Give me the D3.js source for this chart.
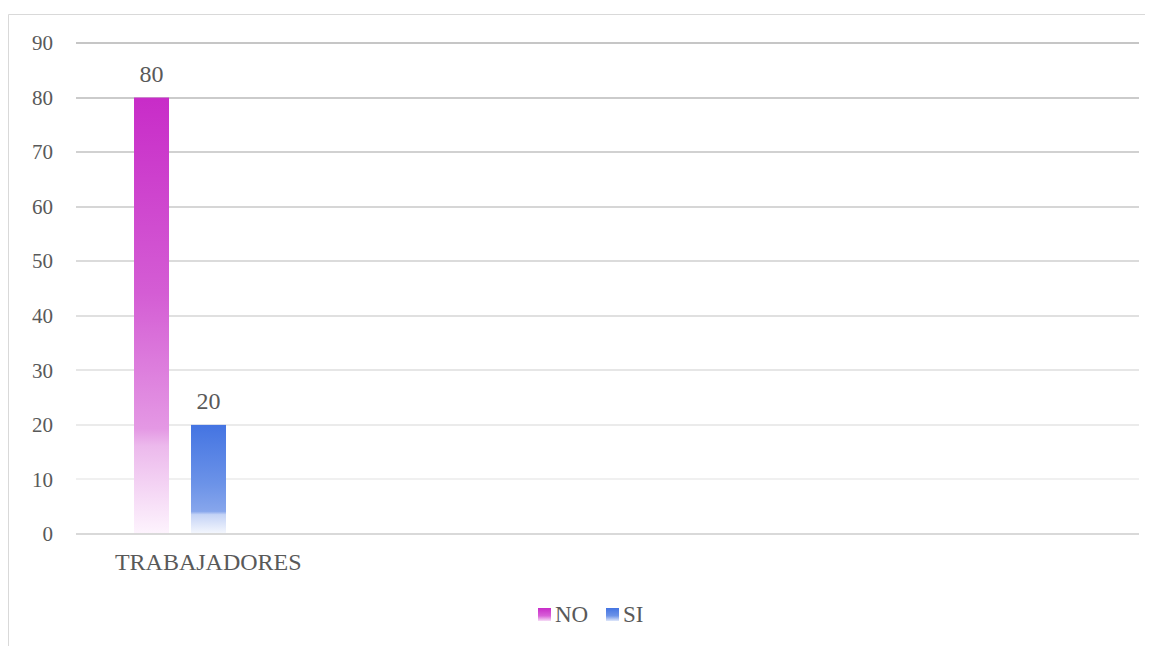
<!DOCTYPE html>
<html>
<head>
<meta charset="utf-8">
<script src="https://cdn.jsdelivr.net/npm/d3@7"></script>
<style>
  html, body { margin: 0; padding: 0; background: #fff; }
  svg text { font-family: "Liberation Serif", "DejaVu Serif", serif; font-variant-numeric: oldstyle-nums; fill: #595959; }
</style>
</head>
<body>
<svg id="chart" width="1154" height="646"></svg>
<script>
// Survey answers per group
const categories = ["TRABAJADORES"];
const seriesNames = ["NO", "SI"];
const valuesNO = [80];
const valuesSI = [20];
const yTicks = [0, 10, 20, 30, 40, 50, 60, 70, 80, 90];

const svg = d3.select("#chart");
const W = 1154, H = 646;
const plot = { left: 76, right: 1139, top: 43, bottom: 534 };

// chart frame (top and left edges)
svg.append("path")
  .attr("d", `M8.5,${H} V14.5 H1145`)
  .attr("fill", "none").attr("stroke", "#d9d9d9").attr("stroke-width", 1);

const y = d3.scaleLinear().domain([0, 90]).range([plot.bottom, plot.top]);

// one category slot out of five equal slots across the plot
const slotW = (plot.right - plot.left) / 5;
const x0 = d3.scaleBand().domain(categories).range([plot.left, plot.left + slotW * categories.length]);
const x1 = d3.scaleBand().domain(seriesNames).range([0, x0.bandwidth()])
  .paddingInner(0.386).paddingOuter(1.058).align(0.481);

// gradients
const defs = svg.append("defs");
function grad(id, stops) {
  const g = defs.append("linearGradient").attr("id", id)
    .attr("x1", 0).attr("y1", 0).attr("x2", 0).attr("y2", 1);
  stops.forEach(s => g.append("stop").attr("offset", s[0]).attr("stop-color", s[1]));
}
grad("gNO", [[0, "#c82cc8"], [0.45, "#d45dd4"], [0.76, "#e498e4"], [0.8, "#ecb9ec"], [1, "#fdf3fd"]]);
grad("gSI", [[0, "#4474e2"], [0.55, "#6c93e8"], [0.8, "#87a6ec"], [0.83, "#c4d3f6"], [1, "#f3f6fd"]]);
grad("gNOleg", [[0, "#c82cc8"], [0.6, "#d860d8"], [1, "#f6dcf6"]]);
grad("gSIleg", [[0, "#4474e2"], [0.6, "#6c93e8"], [1, "#dfe7fa"]]);

// gridlines, fading toward the baseline
const gridColor = d3.scaleLinear().domain([90, 10]).range(["#c6c6c6", "#f0f0f0"]);
svg.append("g").selectAll("line").data(yTicks).join("line")
  .attr("x1", plot.left).attr("x2", plot.right)
  .attr("y1", d => Math.round(y(d))).attr("y2", d => Math.round(y(d)))
  .attr("stroke", d => d === 0 ? "#d9d9d9" : gridColor(d))
  .attr("stroke-width", 2);

// y axis labels
const yAxis = d3.axisLeft(y).tickValues(yTicks).tickSize(0).tickPadding(0).tickFormat(d3.format("d"));
const ya = svg.append("g").attr("transform", `translate(53,0)`).call(yAxis);
ya.select(".domain").remove();
ya.selectAll("text").attr("font-size", 21).attr("fill", "#595959")
  .style("font-family", "'Liberation Serif', serif").attr("dy", "0.32em");

// bars
const rows = categories.map((c, i) => ({ cat: c, NO: valuesNO[i], SI: valuesSI[i] }));
const gCat = svg.append("g").selectAll("g").data(rows).join("g")
  .attr("transform", d => `translate(${x0(d.cat)},0)`);
const bars = gCat.selectAll("g.bar").data(d => seriesNames.map(s => ({ s, v: d[s] }))).join("g").attr("class", "bar");
bars.append("rect")
  .attr("x", d => x1(d.s)).attr("width", x1.bandwidth())
  .attr("y", d => y(d.v)).attr("height", d => y(0) - y(d.v) - 1)
  .attr("fill", d => `url(#g${d.s})`);
bars.append("text")
  .attr("x", d => x1(d.s) + x1.bandwidth() / 2)
  .attr("y", d => y(d.v) - 16)
  .attr("text-anchor", "middle").attr("font-size", 24).attr("fill", "#404040")
  .text(d => d.v);

// category label
svg.append("g").selectAll("text").data(categories).join("text")
  .attr("x", d => x0(d) + x0.bandwidth() / 2 + 26)
  .attr("y", 570)
  .attr("text-anchor", "middle").attr("font-size", 24).attr("fill", "#595959")
  .text(d => d);

// legend
const legend = svg.append("g");
const legendItems = [{ s: "NO", x: 538 }, { s: "SI", x: 606 }];
legendItems.forEach(it => {
  legend.append("rect").attr("x", it.x).attr("y", 608).attr("width", 13).attr("height", 13)
    .attr("fill", `url(#g${it.s}leg)`);
  legend.append("text").attr("x", it.x + 17).attr("y", 622)
    .attr("font-size", 23).attr("fill", "#595959").text(it.s);
});
</script>
</body>
</html>
